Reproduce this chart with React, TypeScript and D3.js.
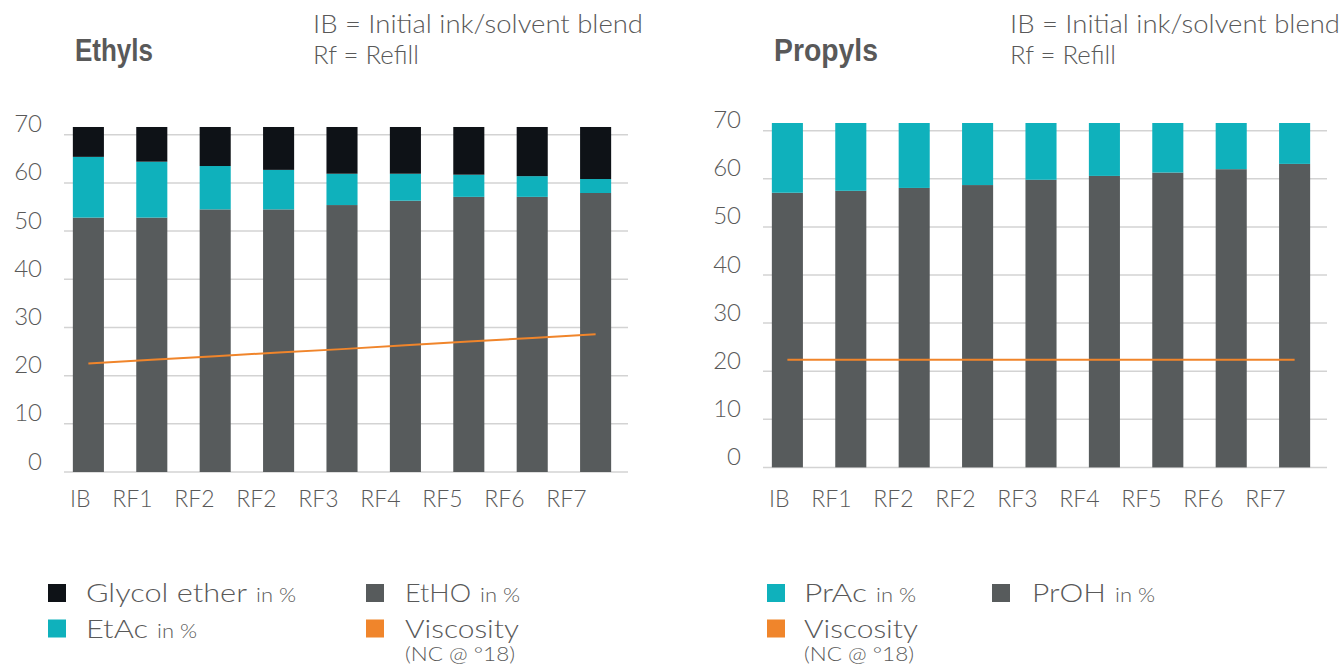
import React from 'react'
import * as d3 from 'd3'

// x categories and y ticks shared by both panels
const categories = ['IB', 'RF1', 'RF2', 'RF2', 'RF3', 'RF4', 'RF5', 'RF6', 'RF7']
const yTicks = [0, 10, 20, 30, 40, 50, 60, 70]

// Ethyls, in %
const ethylEtHO = [52.8, 52.8, 54.5, 54.5, 55.4, 56.3, 57.1, 57.1, 57.9]
const ethylEtAc = [12.6, 11.6, 9.0, 8.2, 6.5, 5.6, 4.6, 4.3, 2.9]
const ethylGlycol = [6.2, 7.2, 8.1, 8.9, 9.7, 9.7, 9.9, 10.2, 10.8]
const ethylViscosity = [22.5, 23.3, 24.0, 24.8, 25.5, 26.3, 27.1, 27.8, 28.6]

// Propyls, in %
const propylPrOH = [57.1, 57.5, 58.1, 58.7, 59.8, 60.6, 61.3, 62.0, 63.1]
const propylPrAc = [14.5, 14.1, 13.5, 12.9, 11.8, 11.0, 10.3, 9.6, 8.5]
const propylViscosity = [22.4, 22.4, 22.4, 22.4, 22.4, 22.4, 22.4, 22.4, 22.4]

const FONT = "Lato, 'Open Sans', sans-serif"
const TEXT = '#595959'
const BLACK = '#0e1217'
const TEAL = '#0fb1bc'
const GREY = '#575b5c'
const ORANGE = '#f0852b'

type Layer = { key: string; values: number[]; color: string }

function Chart({ left, bottom, top, layers, viscosity }: { left: number; bottom: number; top: number; layers: Layer[]; viscosity: number[] }) {
  const idx = categories.map((_, i) => i)
  const x = d3.scaleBand<number>().domain(idx).range([left - 7, left + 563]).paddingInner(0.51).paddingOuter(0.25)
  const xLabel = d3.scalePoint<number>().domain(idx).range([left + 26.5, left + 522.5])
  const y = d3.scaleLinear().domain([0, 70]).range([bottom, top])

  const rows = idx.map(i => {
    const r: any = {}
    layers.forEach(l => (r[l.key] = l.values[i]))
    return r
  })
  const stacked = d3.stack().keys(layers.map(l => l.key))(rows)
  const line = d3
    .line<number>()
    .x((d, i) => (x(i) as number) + x.bandwidth() / 2)
    .y(d => y(d))

  return (
    <g>
      {yTicks.map(t => (
        <g key={t}>
          <line x1={left} x2={left + 564} y1={y(t)} y2={y(t)} stroke="#d3d3d3" strokeWidth={1.5} />
          <text x={left - 22} y={y(t) - 2.5} textAnchor="end" fontSize={24} fill={TEXT} fontFamily={FONT} fontWeight={300}>
            {t}
          </text>
        </g>
      ))}
      {stacked.map((s, k) => (
        <g key={s.key} fill={layers[k].color}>
          {s.map((d, i) => (
            <rect key={i} x={x(i)} width={x.bandwidth()} y={y(d[1])} height={y(d[0]) - y(d[1])} />
          ))}
        </g>
      ))}
      <path d={line(viscosity) || ''} fill="none" stroke={ORANGE} strokeWidth={2} />
      {categories.map((c, i) => (
        <text key={i} x={xLabel(i)} y={507} textAnchor="end" fontSize={23} fill={TEXT} fontFamily={FONT} fontWeight={300}>
          {c}
        </text>
      ))}
    </g>
  )
}

function LegendItem({ sx, sy, tx, color, label, width, suffix, sub }: any) {
  return (
    <g fontFamily={FONT} fill={TEXT} fontWeight={300}>
      <rect x={sx} y={sy} width={18} height={18} fill={color} />
      <text x={tx} y={sy + 18} fontSize={26} textLength={width} lengthAdjust="spacingAndGlyphs">
        {label}
      </text>
      {suffix && (
        <text x={tx + width + 9} y={sy + 18} fontSize={20} textLength={40} lengthAdjust="spacingAndGlyphs">
          {suffix}
        </text>
      )}
      {sub && (
        <text x={tx} y={sy + 41} fontSize={19} textLength={110} lengthAdjust="spacingAndGlyphs">
          {sub}
        </text>
      )}
    </g>
  )
}

function Heading({ x, title, titleWidth, noteX }: any) {
  return (
    <g fill={TEXT}>
      <text x={x} y={61} fontSize={32} fontWeight="bold" fontFamily="'Liberation Sans Narrow', 'Liberation Sans', sans-serif" textLength={titleWidth} lengthAdjust="spacingAndGlyphs">
        {title}
      </text>
      <text x={noteX} y={33} fontSize={25} fontFamily={FONT} fontWeight={300} textLength={330} lengthAdjust="spacingAndGlyphs">
        IB = Initial ink/solvent blend
      </text>
      <text x={noteX} y={64} fontSize={25} fontFamily={FONT} fontWeight={300} textLength={106} lengthAdjust="spacingAndGlyphs">
        Rf = Refill
      </text>
    </g>
  )
}

export default function App() {
  return (
    <svg width={1342} height={665} style={{ position: 'absolute', left: 0, top: 0, display: 'block', background: '#fff' }}>
      <Heading x={75} title="Ethyls" titleWidth={78} noteX={313} />
      <Heading x={774} title="Propyls" titleWidth={104} noteX={1010} />

      <Chart
        left={64}
        bottom={472}
        top={134.7}
        layers={[
          { key: 'EtHO', values: ethylEtHO, color: GREY },
          { key: 'EtAc', values: ethylEtAc, color: TEAL },
          { key: 'Glycol', values: ethylGlycol, color: BLACK },
        ]}
        viscosity={ethylViscosity}
      />
      <Chart
        left={763}
        bottom={467.4}
        top={130.7}
        layers={[
          { key: 'PrOH', values: propylPrOH, color: GREY },
          { key: 'PrAc', values: propylPrAc, color: TEAL },
        ]}
        viscosity={propylViscosity}
      />

      <LegendItem sx={48} sy={584} tx={86} color={BLACK} label="Glycol ether" width={161} suffix="in %" />
      <LegendItem sx={48} sy={619.5} tx={86} color={TEAL} label="EtAc" width={62} suffix="in %" />
      <LegendItem sx={366} sy={584} tx={405} color={GREY} label="EtHO" width={66} suffix="in %" />
      <LegendItem sx={366} sy={619.5} tx={405} color={ORANGE} label="Viscosity" width={114} sub="(NC @ °18)" />

      <LegendItem sx={767} sy={584} tx={804} color={TEAL} label="PrAc" width={63} suffix="in %" />
      <LegendItem sx={992} sy={584} tx={1032} color={GREY} label="PrOH" width={74} suffix="in %" />
      <LegendItem sx={767} sy={619.5} tx={804} color={ORANGE} label="Viscosity" width={114} sub="(NC @ °18)" />
    </svg>
  )
}
